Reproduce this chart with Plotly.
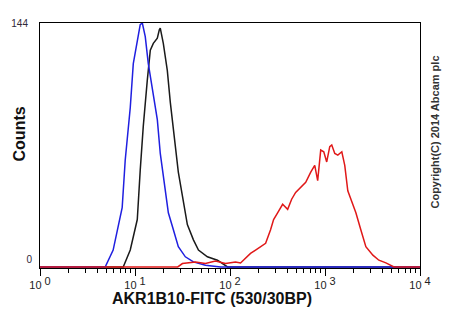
import plotly.graph_objects as go

# Fluorescence intensity (log10 of AKR1B10-FITC) and counts
blue_log = [0.0, 0.686, 0.770, 0.865, 0.897, 0.950, 0.982, 1.024, 1.055, 1.077, 1.108,
            1.140, 1.182, 1.235, 1.266, 1.319, 1.351, 1.404, 1.456, 1.530, 1.615,
            1.741, 1.900, 4.0]
blue_counts = [0, 0, 10, 35, 63, 94, 120, 134, 143, 144, 136,
               120, 106, 87, 67, 47, 32, 22, 12, 6, 3,
               1, 0, 0]

black_log = [0.0, 0.876, 0.950, 1.024, 1.055, 1.087, 1.129, 1.161, 1.193, 1.235, 1.256,
             1.266, 1.298, 1.340, 1.372, 1.425, 1.456, 1.499, 1.551, 1.615, 1.668,
             1.762, 1.868, 1.974, 4.0]
black_counts = [0, 0, 10, 28, 57, 83, 110, 128, 132, 135, 140,
                141, 132, 116, 97, 71, 56, 42, 25, 16, 10,
                6, 4, 0, 0]

red_log = [0.0, 1.45, 1.499, 1.636, 1.741, 1.847, 1.953, 2.058, 2.111, 2.164, 2.216,
           2.269, 2.322, 2.375, 2.427, 2.459, 2.501, 2.554, 2.607, 2.649, 2.691,
           2.744, 2.797, 2.850, 2.892, 2.923, 2.955, 2.987, 3.018, 3.050, 3.071,
           3.103, 3.135, 3.177, 3.208, 3.240, 3.272, 3.325, 3.377, 3.430, 3.504,
           3.567, 3.641, 3.726, 4.0]
red_counts = [0, 0, 2, 3, 2, 3.5, 2, 3, 2.4, 5, 8,
              10, 12, 14, 22, 28, 32, 37, 34, 40, 44,
              47, 50, 56, 60, 51, 69, 68, 62, 71, 72,
              67, 66, 68, 60, 45, 40, 32, 22, 12, 7,
              4, 2.4, 0, 0]

x_tick_vals = [1, 10, 100, 1000, 10000]
x_exponents = ["0", "1", "2", "3", "4"]
x_tick_text = ["10 <sup><span style='font-size:11px'>%s</span></sup>" % e
               for e in x_exponents]
x_minor_vals = [m * d for d in (1, 10, 100, 1000) for m in range(2, 10)]

FONT = "Liberation Sans, Arial, sans-serif"

fig = go.Figure()
fig.add_trace(go.Scatter(x=[10 ** v for v in black_log], y=black_counts, mode="lines",
                         line=dict(color="#1a1a1a", width=1.5), showlegend=False))
fig.add_trace(go.Scatter(x=[10 ** v for v in blue_log], y=blue_counts, mode="lines",
                         line=dict(color="#1f1fe0", width=1.5), showlegend=False))
fig.add_trace(go.Scatter(x=[10 ** v for v in red_log], y=red_counts, mode="lines",
                         line=dict(color="#e01818", width=1.5), showlegend=False,
                         yaxis="y2"))

yrange = [-0.6, 144]
fig.update_layout(
    width=450, height=330,
    margin=dict(l=32, r=38, t=15, b=70),
    paper_bgcolor="white", plot_bgcolor="white",
    font=dict(family=FONT, color="#222"),
    xaxis=dict(
        type="log", range=[0, 4], automargin=False,
        tickvals=x_tick_vals, ticktext=x_tick_text,
        ticks="outside", ticklen=7, tickwidth=1, tickcolor="black",
        minor=dict(tickvals=x_minor_vals, ticks="outside", ticklen=4,
                   tickwidth=1, tickcolor="black", showgrid=False),
        showgrid=False, zeroline=False,
        showline=True, linecolor="black", linewidth=1, mirror=True,
        tickfont=dict(size=11, color="#222"),
    ),
    yaxis=dict(
        range=yrange, tickvals=[144], ticktext=["144"], automargin=False,
        ticks="", showgrid=False, zeroline=False, ticklabelstandoff=9,
        showline=True, linecolor="black", linewidth=1, mirror=True,
        tickfont=dict(size=10, color="#302838"),
    ),
    yaxis2=dict(
        range=yrange, overlaying="y", side="left", automargin=False,
        tickvals=[0], ticktext=["0"], ticklabelposition="outside top",
        ticklabelstandoff=7,
        ticks="", showgrid=False, zeroline=False, showline=False,
        tickfont=dict(size=10, color="#302838"),
    ),
)

fig.add_annotation(
    text="<b>AKR1B10-FITC (530/30BP)</b>", xref="paper", yref="paper",
    x=0.453, y=-0.1265, xanchor="center", yanchor="middle", showarrow=False,
    font=dict(size=16, color="#111", family=FONT),
)

fig.add_annotation(
    text="<b>Counts</b>", xref="paper", yref="paper",
    x=0, xshift=-21, y=0.545, xanchor="center", yanchor="middle",
    textangle=-90, showarrow=False,
    font=dict(size=16, color="#111", family=FONT),
)

fig.add_annotation(
    text="<b>Copyright(C) 2014 Abcam plc</b>",
    xref="paper", yref="paper", x=1.0, xshift=15, y=0.553,
    xanchor="center", yanchor="middle",
    textangle=-90, showarrow=False,
    font=dict(size=11, color="#333", family=FONT),
)

fig.write_html("out.html")
